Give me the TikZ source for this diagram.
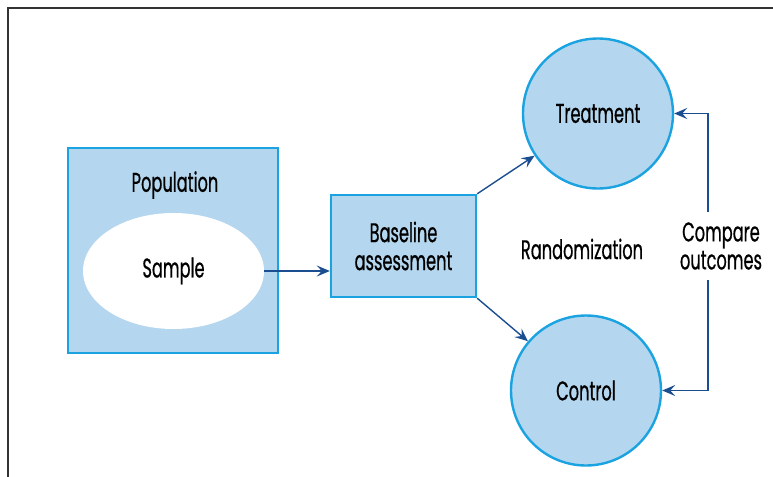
\documentclass[tikz,border=0pt]{standalone}
\usepackage{fontspec}
\setmainfont{Poppins}[FakeStretch=0.6,FakeBold=0.6]
\usetikzlibrary{arrows.meta,shapes.geometric}

\definecolor{boxfill}{HTML}{B4D6EE}
\definecolor{boxline}{HTML}{1AA3E0}
\definecolor{arrline}{HTML}{1B4E91}

\begin{document}
\begin{tikzpicture}[x=0.5pt,y=-0.5pt,font=\fontsize{13.5}{14}\selectfont,
	blk/.style={draw=boxline,fill=boxfill,line width=1.2pt},
	grp/.style={blk,circle,minimum size=75pt,inner sep=0pt},
	arr/.style={draw=arrline,line width=0.7pt,-{Stealth[length=6.5pt,width=5.5pt,inset=2.5pt]}}]
	\useasboundingbox (0,0) rectangle (773,477);
	\draw[line width=0.6pt,draw=black!80] (773,8) -- (8,8) -- (8,477);
	\node[blk,minimum width=105pt,minimum height=102.5pt] (pop) at (173,250.5) {};
	\node (poplbl) at (175,185) {Population};
	\node[ellipse,fill=white,minimum width=90.5pt,minimum height=58pt,inner sep=0pt] (smp) at (173.5,271) {Sample};
	\node[blk,minimum width=72.5pt,minimum height=51pt,align=center,inner sep=0pt] (base) at (403.5,246) {Baseline\\assessment};
	\node[grp] (treat) at (598,113.5) {Treatment};
	\node[grp] (ctrl) at (586,390.5) {Control};
	\node (rand) at (582,249) {Randomization};
	\node[align=center,inner sep=5pt] (cmp) at (721,246) {Compare\\outcomes};
	\draw[arr] (smp.east) -- (base.west |- smp.east);
	\draw[arr] (base.north east) -- (treat);
	\draw[arr] (base.south east) -- (ctrl);
	\draw[arr] ([xshift=-6.5pt]cmp.north) |- (treat.east);
	\draw[arr] ([xshift=-6.5pt]cmp.south) |- (ctrl.east);
\end{tikzpicture}
\end{document}
